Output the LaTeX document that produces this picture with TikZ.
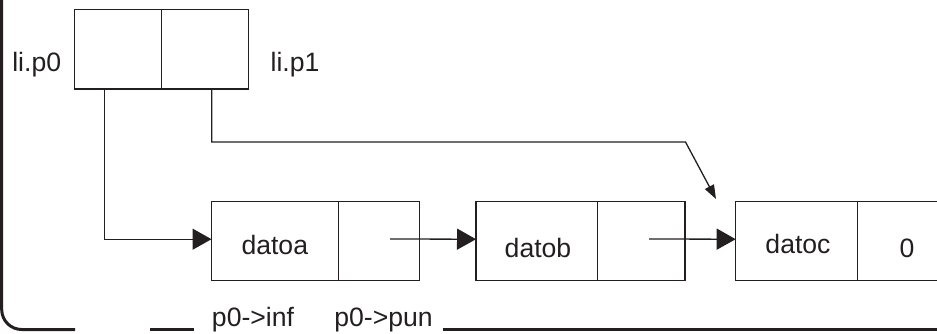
\documentclass[tikz,border=0pt]{standalone}
\usepackage{fontspec}
\setmainfont{Liberation Sans}
\usetikzlibrary{arrows.meta}
\definecolor{ink}{HTML}{231F20}
\begin{document}
\begin{tikzpicture}[x=1pt,y=-1pt,
  cell/.style={draw=ink,line width=1.4pt,minimum width=#1,minimum height=79pt,
    inner sep=0pt,outer sep=0pt,anchor=north west},
  lbl/.style={text=ink,inner sep=0pt,anchor=base,font=\fontsize{26.6}{30}\selectfont},
  conn/.style={draw=ink,line width=1.3pt},
  bigarr/.style={conn,-{Triangle[length=19pt,width=21pt]}},
  smallarr/.style={conn,-{Triangle[length=14pt,width=10pt]}},
  frame/.style={draw=ink,line width=3pt}]
\useasboundingbox (0,0) rectangle (937,333);
\clip (0,0) rectangle (937,333);
% top pair of cells
\node[cell=87pt,minimum height=79.7pt] (tl) at (74.7,9.3) {};
\node[cell=86.6pt,minimum height=79.7pt] (tr) at (161.7,9.3) {};
\node[lbl] (lp0) at (36.7,71) {li.p0};
\node[lbl] (lp1) at (295,71) {li.p1};
% list nodes
\node[cell=126.8pt] (a1) at (211.5,201.7) {};
\node[cell=81pt] (a2) at (338.3,201.7) {};
\node[cell=121.7pt] (b1) at (476,201.7) {};
\node[cell=87.3pt] (b2) at (597.7,201.7) {};
\node[cell=121.6pt] (c1) at (735.7,201.7) {};
\node[cell=87.3pt] (c2) at (857.3,201.7) {};
\node[lbl] (ta) at (274.8,254) {datoa};
\node[lbl] (tb) at (538,257) {datob};
\node[lbl] (tc) at (798,253) {datoc};
\node[lbl] (t0) at (907,257.5) {0};
% connectors
\coordinate (p0s) at (104.3,89);
\coordinate (p1s) at (211.7,89);
\coordinate (bend) at (685.5,142);
\coordinate (ctip) at (716,199);
\coordinate (as) at (390,239);
\coordinate (bs) at (649,239);
\draw[bigarr] (p0s) |- ([yshift=2pt]a1.west);
\draw[bigarr] (as) -- ([yshift=2pt]b1.west);
\draw[bigarr] (bs) -- ([yshift=2pt]c1.west);
\draw[smallarr] (p1s) |- (bend) -- (ctip);
% bottom labels
\node[lbl] (pinf) at (253,326.5) {p0->inf};
\node[lbl] (ppun) at (383.5,326.5) {p0->pun};
% frame
\coordinate (ftop) at (1.7,-5);
\coordinate (f1) at (75,329.5);
\coordinate (f2a) at (150,329.5);
\coordinate (f2b) at (194,329.5);
\coordinate (f3a) at (442.7,329.5);
\coordinate (f3b) at (945,329.5);
\draw[frame,rounded corners=20pt] (ftop) |- (f1);
\draw[frame] (f2a) -- (f2b);
\draw[frame] (f3a) -- (f3b);
\end{tikzpicture}
\end{document}
